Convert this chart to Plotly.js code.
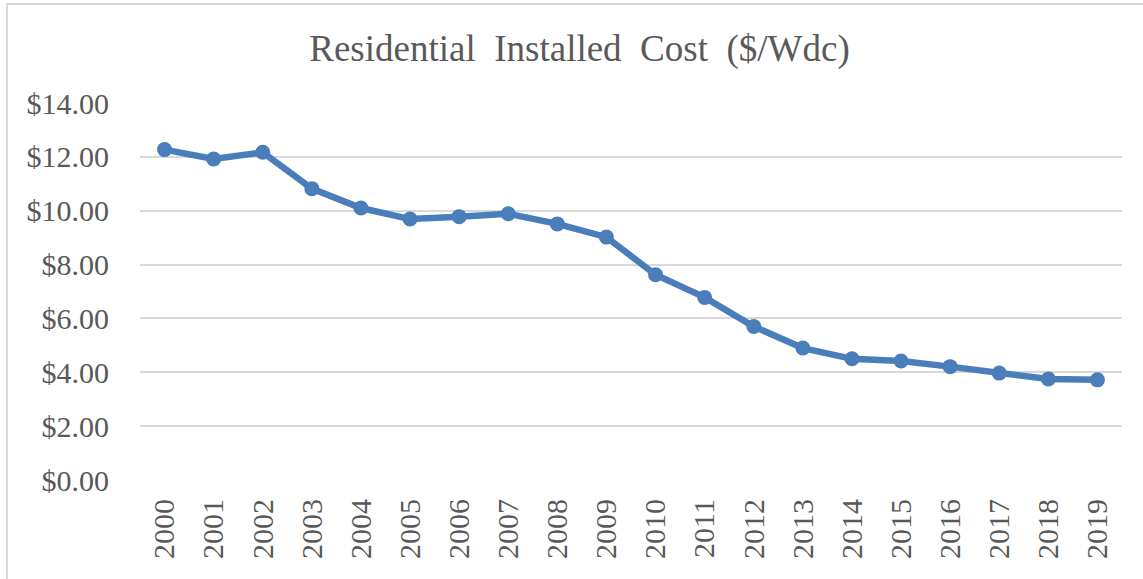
<!DOCTYPE html>
<html>
<head>
<meta charset="utf-8">
<script src="https://cdn.plot.ly/plotly-3.0.1.min.js"></script>
<style>
  html, body { margin: 0; padding: 0; background: #ffffff; }
  #frame { position: absolute; left: 6px; top: 3px; width: 1140px; height: 580px;
           border-left: 2px solid #d9d9d9; border-top: 2px solid #d9d9d9; }
  #chart { position: absolute; left: 0; top: 0; width: 1143px; height: 579px; }
</style>
</head>
<body>
<div id="frame"></div>
<div id="chart"></div>
<script>
const years = ["2000","2001","2002","2003","2004","2005","2006","2007","2008","2009",
               "2010","2011","2012","2013","2014","2015","2016","2017","2018","2019"];
const costPerWdc = [12.27, 11.92, 12.17, 10.82, 10.10, 9.69, 9.78, 9.89, 9.51, 9.02,
                    7.62, 6.78, 5.70, 4.90, 4.50, 4.42, 4.21, 3.97, 3.75, 3.72];
const yTickVals = [0, 2, 4, 6, 8, 10, 12, 14];
const yTickText = ["$0.00","$2.00","$4.00","$6.00","$8.00","$10.00","$12.00","$14.00"];

const font = "Liberation Serif, Times New Roman, serif";
const textColor = "#595959";

Plotly.newPlot("chart", [{
  x: years,
  y: costPerWdc,
  type: "scatter",
  mode: "lines+markers",
  line: { color: "#4a7ebb", width: 6.5 },
  marker: { color: "#4a7ebb", size: 15 },
  hoverinfo: "x+y"
}], {
  width: 1143,
  height: 579,
  paper_bgcolor: "rgba(0,0,0,0)",
  plot_bgcolor: "rgba(0,0,0,0)",
  margin: { l: 140, r: 21, t: 103, b: 99 },
  showlegend: false,
  title: {
    text: "Residential  Installed  Cost  ($/Wdc)",
    font: { family: font, size: 37, color: textColor },
    x: 0.507, xanchor: "center",
    y: 1 - 48 / 579, yref: "container", yanchor: "middle"
  },
  xaxis: {
    type: "category",
    range: [-0.5, 19.5],
    tickangle: -90,
    tickfont: { family: font, size: 30, color: textColor },
    showgrid: false,
    showline: false,
    zeroline: false,
    ticks: "",
    ticklabelstandoff: 12,
    fixedrange: true
  },
  yaxis: {
    range: [0, 14],
    tickvals: yTickVals,
    ticktext: yTickText,
    tickfont: { family: font, size: 30, color: textColor },
    showgrid: true,
    gridcolor: "#d9d9d9",
    gridwidth: 2,
    zeroline: false,
    showline: false,
    ticks: "",
    ticklabelstandoff: 30,
    fixedrange: true
  }
}, { displayModeBar: false, staticPlot: true });
</script>
</body>
</html>
